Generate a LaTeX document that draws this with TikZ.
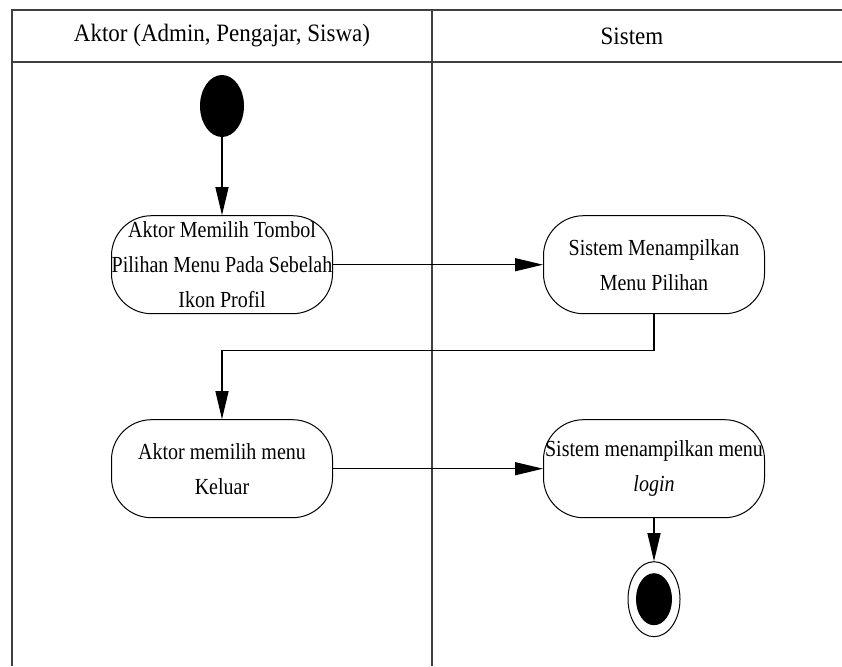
\documentclass[tikz,border=0pt]{standalone}
\usepackage{fontspec}
\setmainfont{Liberation Serif}[FakeStretch=0.87]
\newfontfamily\headfont{Liberation Serif}[FakeStretch=0.92]
\usetikzlibrary{positioning}
\usetikzlibrary{shapes.geometric}
\usetikzlibrary{arrows.meta}
\tikzset{every node/.style={font=\fontsize{23}{35}\selectfont}, % Text size of all labels
      action/.style={ % Sets the properties for each activity
      draw, line width=1pt,
      rounded corners=40pt,
      minimum width=221pt, minimum height=98pt,
      inner xsep=0pt, align=center},
      startnode/.style={ % Initial node
      ellipse, fill=black, inner sep=0pt,
      minimum width=44pt, minimum height=62pt},
      endnode/.style={ % Final node
      ellipse, draw, line width=1pt, inner sep=0pt,
      minimum width=52pt, minimum height=75pt,
      path picture={\fill (path picture bounding box.center) ellipse (18pt and 26pt);}},
      lane/.style={ % Swimlane borders
      draw=black!75, line width=1.6pt},
      flow/.style={ % Sets the properties for each transition
      draw, line width=1.2pt,
      -{Triangle[length=28pt,width=13pt]}}}

\begin{document}
\begin{tikzpicture}[x=1pt, y=-1pt]
      \useasboundingbox (0,0) rectangle (842,666);
      % swimlanes
      \draw[lane] (12,666) -- (12,10) -- (842,10);
      \draw[lane] (12,62) -- (842,62);
      \draw[lane] (432,10) -- (432,666);
      \node (laneaktor) at (222,36) {\headfont\fontsize{25}{30}\selectfont Aktor (Admin, Pengajar, Siswa)};
      \node (lanesistem) at (632,36) {\headfont\fontsize{25}{30}\selectfont Sistem};
      % activities
      \node[startnode] (start) at (222,106) {};
      \node[action, below=78pt of start] (a1) {Aktor Memilih Tombol\\Pilihan Menu Pada Sebelah\\Ikon Profil};
      \node[action, right=210pt of a1] (s1) {Sistem Menampilkan\\Menu Pilihan};
      \node[action, below=105pt of a1] (a2) {Aktor memilih menu\\Keluar};
      \node[action, right=210pt of a2] (s2) {Sistem menampilkan menu\\\textit{login}};
      \node[endnode, below=43pt of s2] (end) {};
      \coordinate[below=36pt of s1.south] (turn);
      \draw[flow] (start) -- (a1);
      \draw[flow] (a1) -- (s1);
      \draw[flow] (s1.south) -- (turn) -| (a2);
      \draw[flow] (a2) -- (s2);
      \draw[flow] (s2) -- (end);
    \end{tikzpicture}
\end{document}
